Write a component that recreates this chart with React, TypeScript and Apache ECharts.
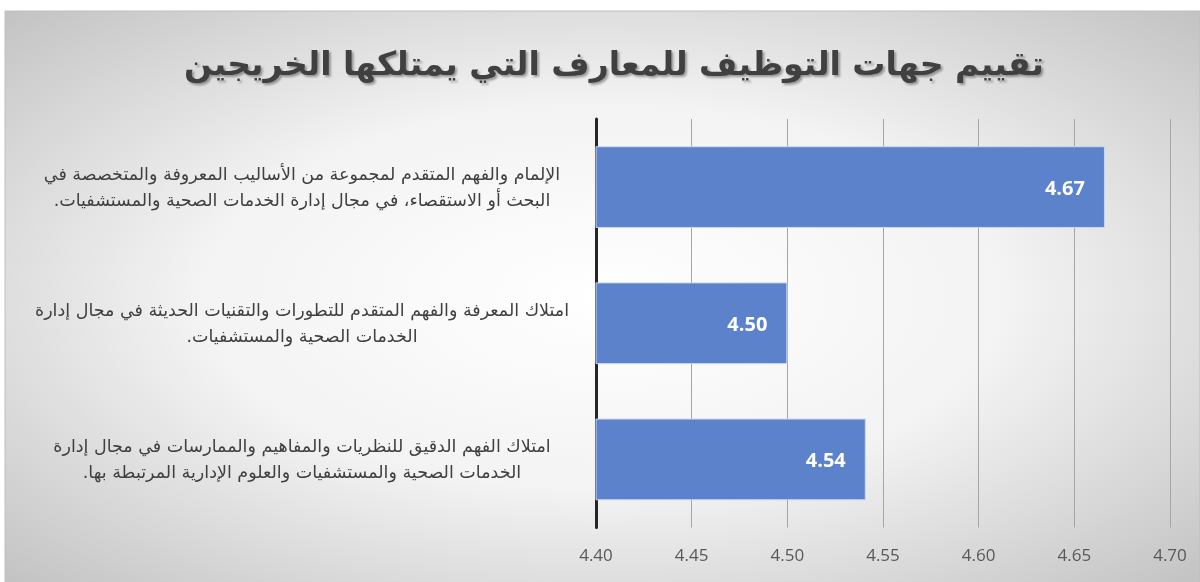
import React, { useEffect, useRef } from "react";
import * as echarts from "echarts";

const RLM = "\u200F";

const titleText = "تقييم جهات التوظيف للمعارف التي يمتلكها الخريجين";

const categories = [
  "الإلمام والفهم المتقدم لمجموعة من الأساليب المعروفة والمتخصصة في\nالبحث أو الاستقصاء، في مجال إدارة الخدمات الصحية والمستشفيات." + RLM,
  "امتلاك المعرفة والفهم المتقدم للتطورات والتقنيات الحديثة في مجال إدارة\nالخدمات الصحية والمستشفيات." + RLM,
  "امتلاك الفهم الدقيق للنظريات والمفاهيم والممارسات في مجال إدارة\nالخدمات الصحية والمستشفيات والعلوم الإدارية المرتبطة بها." + RLM,
];

const values = [4.666, 4.5, 4.541];

const axisMin = 4.4;
const axisMax = 4.7;
const axisStep = 0.05;

export default function App() {
  const ref = useRef<HTMLDivElement>(null);

  useEffect(() => {
    if (!ref.current) return;
    const chart = echarts.init(ref.current, undefined, { renderer: "svg" });
    chart.setOption({
      animation: false,
      graphic: [
        {
          type: "rect",
          z: -10,
          silent: true,
          shape: { x: 5, y: 11, width: 1195, height: 572 },
          style: {
            fill: new echarts.graphic.RadialGradient(0.5, 0.5, 0.75, [
              { offset: 0, color: "#ffffff" },
              { offset: 0.45, color: "#f3f3f3" },
              { offset: 1, color: "#bdbdbd" },
            ]),
            stroke: "#bfbfbf",
            lineWidth: 1,
          },
        },
        {
          type: "text",
          x: 614,
          y: 63,
          style: {
            text: titleText,
            align: "center",
            verticalAlign: "middle",
            font: "bold 33px 'DejaVu Sans', 'Noto Sans', sans-serif",
            fill: "#404040",
            textShadowColor: "rgba(0,0,0,0.35)",
            textShadowBlur: 2,
            textShadowOffsetX: 2,
            textShadowOffsetY: 2,
          },
        },
      ],
      grid: { left: 596, right: 30, top: 119, bottom: 54.5, containLabel: false },
      xAxis: {
        type: "value",
        min: axisMin,
        max: axisMax,
        interval: axisStep,
        axisLine: { show: false },
        axisTick: { show: false },
        axisLabel: {
          formatter: (v: number) => v.toFixed(2),
          color: "#595959",
          fontSize: 17,
          fontFamily: "'Open Sans', sans-serif",
          margin: 18,
        },
        splitLine: { show: true, lineStyle: { color: "#a6a6a6", width: 1 } },
      },
      yAxis: {
        type: "category",
        data: categories,
        inverse: true,
        axisLine: { show: true, lineStyle: { color: "#262626", width: 3 } },
        axisTick: { show: false },
        axisLabel: {
          align: "center",
          margin: 294,
          color: "#404040",
          fontSize: 17.5,
          lineHeight: 26,
          fontFamily: "'DejaVu Sans', sans-serif",
        },
      },
      series: [
        {
          type: "bar",
          data: values,
          barCategoryGap: "40%",
          itemStyle: { color: "#5b82cb", borderColor: "#c9d6ef", borderWidth: 1 },
          label: {
            show: true,
            position: "insideRight",
            distance: 20,
            formatter: (p: any) => Number(p.value).toFixed(2),
            color: "#ffffff",
            fontSize: 20,
            fontWeight: "bold",
            fontFamily: "'Open Sans', sans-serif",
          },
        },
      ],
    });
    return () => chart.dispose();
  }, []);

  return (
    <div
      ref={ref}
      style={{ position: "fixed", left: 0, top: 0, width: 1200, height: 582 }}
    />
  );
}
